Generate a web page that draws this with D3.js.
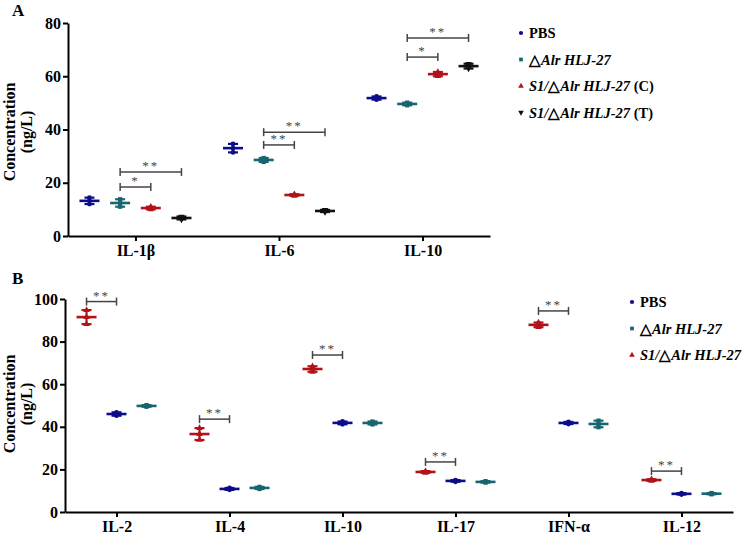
<!DOCTYPE html>
<html>
<head>
<meta charset="utf-8">
<script src="https://cdn.jsdelivr.net/npm/d3@7"></script>
<style>
body{margin:0;background:#fff;}
text{font-family:"Liberation Serif","Times New Roman",serif;}
</style>
</head>
<body>
<script>
// panel A data (replicates, ng/L)
const catsA=["IL-1β","IL-6","IL-10"];
const groupsA=["PBS","Alr","S1C","S1T"];
const pbsA=[[12.0,13.2,14.4],[31.4,33.0,34.6],[51.2,51.8,52.4]];
const alrA=[[11.0,12.4,13.8],[27.8,28.6,29.3],[49.1,49.6,50.1]];
const s1cA=[[10.0,10.5,11.0],[15.1,15.4,15.7],[60.0,60.8,61.6]];
const s1tA=[[6.2,6.8,7.3],[9.0,9.4,9.8],[62.9,63.8,64.7]];
const ticksA=[0,20,40,60,80];
// [category, from group, to group, level, stars]
const sigA=[["IL-1β","Alr","S1C",18.4,"*"],["IL-1β","Alr","S1T",24,"**"],
            ["IL-6","Alr","S1C",34.2,"**"],["IL-6","Alr","S1T",39,"**"],
            ["IL-10","Alr","S1C",67.2,"*"],["IL-10","Alr","S1T",74.4,"**"]];

// panel B data
const catsB=["IL-2","IL-4","IL-10","IL-17","IFN-α","IL-12"];
const groupsB=["S1","PBS","Alr"];
const s1B=[[88.2,91.5,94.8],[33.8,36.6,39.4],[65.8,67.2,68.4],[18.4,18.8,19.2],[86.8,87.8,89.0],[14.6,15.0,15.4]];
const pbsB=[[45.2,46.0,46.8],[10.4,10.8,11.3],[41.2,41.8,42.5],[14.2,14.6,15.0],[41.3,41.8,42.3],[8.2,8.5,8.9]];
const alrB=[[49.4,49.8,50.2],[10.8,11.3,11.8],[41.1,41.8,42.5],[13.8,14.1,14.5],[39.8,41.3,42.9],[8.3,8.6,8.9]];
const ticksB=[0,20,40,60,80,100];
const sigB=[["IL-2","S1","PBS",98.8,"**"],["IL-4","S1","PBS",43.6,"**"],["IL-10","S1","PBS",73.7,"**"],
            ["IL-17","S1","PBS",23.5,"**"],["IFN-α","S1","PBS",94.4,"**"],["IL-12","S1","PBS",19.2,"**"]];

const col={PBS:"#0d0d8a",Alr:"#17666f",S1C:"#b3121b",S1:"#b3121b",S1T:"#111111"};
const shape={PBS:d3.symbolCircle,Alr:d3.symbolSquare,S1C:d3.symbolTriangle,S1:d3.symbolTriangle,S1T:d3.symbolTriangle};

const svg=d3.select("body").append("svg").attr("width",749).attr("height",535);

function panel(o){
  const x=d3.scalePoint().domain(o.cats).range(o.xr).padding(o.pad);
  const xi=d3.scalePoint().domain(o.groups).range(o.inner);
  const y=d3.scaleLinear().domain([0,o.ticks[o.ticks.length-1]]).range(o.yr);

  const gx=svg.append("g").attr("transform","translate(0,"+o.yr[0]+")")
    .call(d3.axisBottom(x).tickSize(5).tickSizeOuter(0).tickPadding(4));
  const gy=svg.append("g").attr("transform","translate("+o.xr[0]+",0)")
    .call(d3.axisLeft(y).tickValues(o.ticks).tickSize(5).tickSizeOuter(0).tickPadding(2));
  [gx,gy].forEach(g=>{
    g.selectAll("path,line").attr("stroke","#000").attr("stroke-width",2);
    g.selectAll("text").attr("font-size",16).attr("font-weight","bold").attr("fill","#000")
      .style("font-family","'Liberation Serif',serif");
  });

  // y title
  const tl=svg.append("g").attr("transform","translate(15,"+o.ymid+") rotate(-90)");
  tl.append("text").attr("text-anchor","middle").attr("font-size",16).attr("font-weight","bold").text("Concentration");
  tl.append("text").attr("y",17).attr("text-anchor","middle").attr("font-size",16).attr("font-weight","bold").text("(ng/L)");

  svg.append("text").attr("x",12).attr("y",o.labelY).attr("font-size",17).attr("font-weight","bold").text(o.label);

  o.groups.forEach((g,gi)=>{
    const c=col[g];
    o.series[gi].forEach((vals,ci)=>{
      const cx=x(o.cats[ci])+xi(g);
      const m=d3.mean(vals),sd=d3.deviation(vals);
      const gg=svg.append("g").attr("stroke",c).attr("stroke-width",2.2);
      vals.forEach(v=>{
        svg.append("path").attr("d",d3.symbol(shape[g],18)())
          .attr("transform","translate("+cx+","+y(v)+")"+(g==="S1T"?" rotate(180)":""))
          .attr("fill",c);
      });
      gg.append("line").attr("x1",cx).attr("x2",cx).attr("y1",y(m-sd)).attr("y2",y(m+sd));
      gg.append("line").attr("x1",cx-10).attr("x2",cx+10).attr("y1",y(m)).attr("y2",y(m)).attr("stroke-width",2.6);
      [m-sd,m+sd].forEach(v=>gg.append("line").attr("x1",cx-5).attr("x2",cx+5).attr("y1",y(v)).attr("y2",y(v)));
    });
  });

  o.sig.forEach(s=>{
    const x1=x(s[0])+xi(s[1]),x2=x(s[0])+xi(s[2]),yy=y(s[3]);
    const g=svg.append("g").attr("stroke","#444").attr("stroke-width",1.5);
    g.append("line").attr("x1",x1).attr("x2",x2).attr("y1",yy).attr("y2",yy);
    [x1,x2].forEach(xx=>g.append("line").attr("x1",xx).attr("x2",xx).attr("y1",yy-4).attr("y2",yy+4));
    svg.append("text").attr("x",(x1+x2)/2).attr("y",yy-2).attr("text-anchor","middle")
      .attr("font-size",13).attr("fill","#444").attr("letter-spacing",2).text(s[4]);
  });
}

panel({cats:catsA,groups:groupsA,series:[pbsA,alrA,s1cA,s1tA],ticks:ticksA,sig:sigA,
  xr:[68,490],pad:0.47,inner:[-46,46],yr:[236,23],ymid:132,label:"A",labelY:16});
panel({cats:catsB,groups:groupsB,series:[s1B,pbsB,alrB],ticks:ticksB,sig:sigB,
  xr:[65,733],pad:0.456,inner:[-30,30],yr:[512,299],ymid:404,label:"B",labelY:284});

// legends
function legend(items,x0,y0,dy){
  items.forEach((it,i)=>{
    const yy=y0+i*dy;
    svg.append("path").attr("d",d3.symbol(shape[it.k],14)())
      .attr("transform","translate("+x0+","+(yy-5)+")"+(it.k==="S1T"?" rotate(180)":"")).attr("fill",col[it.k]);
    const t=svg.append("text").attr("x",x0+8).attr("y",yy).attr("font-size",14.5).attr("font-weight","bold");
    it.parts.forEach(p=>t.append("tspan").attr("font-style",p[1]?"italic":"normal").text(p[0]));
  });
}
const tri="\u25B3";
legend([{k:"PBS",parts:[[" PBS",0]]},
        {k:"Alr",parts:[[tri,0],["Alr HLJ-27",1]]},
        {k:"S1C",parts:[["S1/",1],[tri,0],["Alr HLJ-27",1],[" (C)",0]]},
        {k:"S1T",parts:[["S1/",1],[tri,0],["Alr HLJ-27",1],[" (T)",0]]}],521,38,26.5);
legend([{k:"PBS",parts:[[" PBS",0]]},
        {k:"Alr",parts:[[tri,0],["Alr HLJ-27",1]]},
        {k:"S1",parts:[["S1/",1],[tri,0],["Alr HLJ-27",1]]}],632,307,26.5);
</script>
</body>
</html>
